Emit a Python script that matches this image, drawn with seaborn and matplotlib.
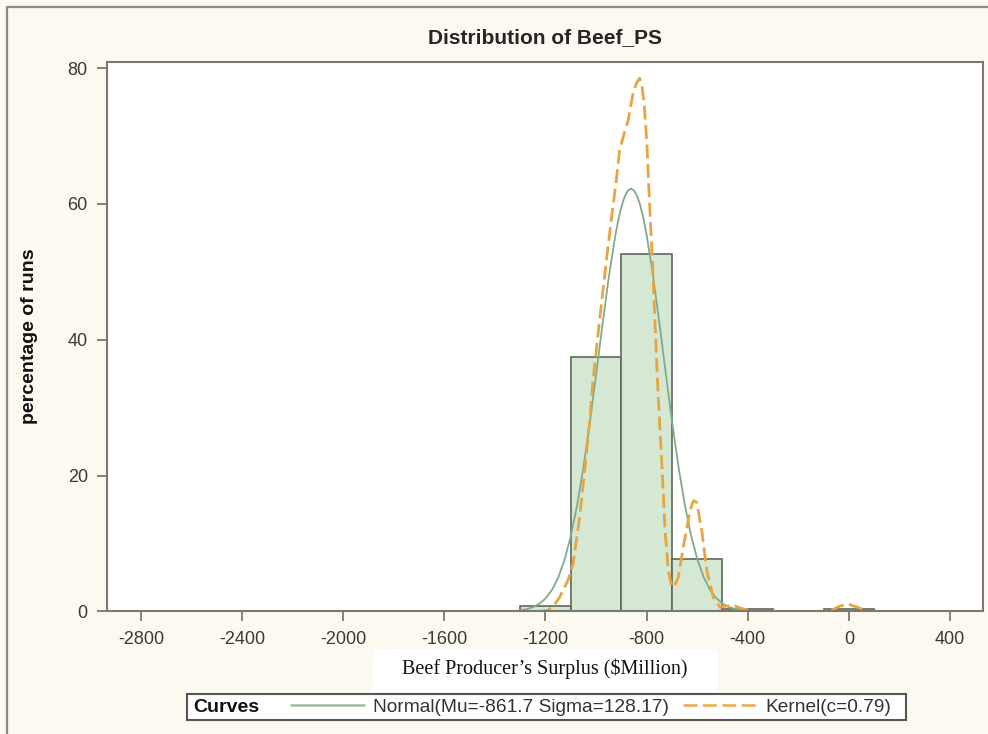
import numpy as np
import pandas as pd
import seaborn as sns
import matplotlib.pyplot as plt
from matplotlib.lines import Line2D
from matplotlib.patches import Rectangle

# Histogram bins (centres, width 200) and percentage of runs
bin_centers = [-1200, -1000, -800, -600, -400, -200, 0]
bin_pcts = [0.8, 37.5, 52.6, 7.8, 0.4, 0.0, 0.4]

# Normal curve
normal_x = [-1300, -1275, -1250, -1225, -1200, -1175, -1150, -1125, -1100, -1075,
            -1050, -1025, -1000, -975, -950, -925, -912.5, -900, -887.5, -875,
            -862.5, -850, -837.5, -825, -812.5, -800, -775, -750, -725, -700,
            -675, -650, -625, -600, -575, -550, -525, -500, -475, -450, -425]
normal_y = [0.18, 0.34, 0.63, 1.12, 1.91, 3.14, 4.96, 7.55, 11.07, 15.61,
            21.2, 27.7, 34.78, 42.12, 49.1, 55.1, 57.55, 59.53, 61.0, 61.91,
            62.25, 61.99, 61.15, 59.75, 57.83, 55.44, 49.52, 42.58, 35.25, 28.09,
            21.54, 15.91, 11.31, 7.74, 5.1, 3.23, 1.98, 1.16, 0.66, 0.36, 0.19]

# Kernel curve
kernel_x = [-1230, -1190, -1165, -1144, -1111, -1091, -1065, -1045, -1025, -1012,
            -992, -986, -959, -940, -920, -907, -887, -873, -854, -840,
            -828, -819, -810, -799, -792, -784, -776, -767, -754, -740,
            -727, -714, -700, -689, -675, -655, -628, -615, -602, -582,
            -562, -536, -510, -485, -457, -430, -404, -375, -100, -71,
            -35, -4, 35, 75, 100]
kernel_y = [0.0, 0.15, 1.0, 2.1, 4.6, 7.0, 13.9, 20.8, 28.1, 34.0,
            40.9, 42.9, 51.7, 57.6, 63.5, 67.9, 70.6, 72.3, 76.2, 77.8,
            78.5, 77.5, 74.8, 68.9, 63.0, 56.6, 50.7, 42.5, 31.6, 21.8,
            11.9, 6.0, 3.6, 3.8, 5.0, 9.5, 14.9, 16.3, 16.1, 11.9,
            6.0, 2.1, 0.6, 0.8, 0.9, 0.5, 0.25, 0.0, 0.0, 0.15,
            0.8, 1.1, 0.6, 0.05, 0.0]

x_ticks = [-2800, -2400, -2000, -1600, -1200, -800, -400, 0, 400]
y_ticks = [0, 20, 40, 60, 80]

hist_df = pd.DataFrame({'center': bin_centers, 'pct': bin_pcts})
normal_df = pd.DataFrame({'x': normal_x, 'y': normal_y})
kernel_df = pd.DataFrame({'x': kernel_x, 'y': kernel_y})

sns.set_theme(style='ticks')
plt.rcParams['font.family'] = ['Liberation Sans', 'DejaVu Sans']
plt.rcParams['axes.unicode_minus'] = False

bg = '#fcf9f1'
axis_col = '#7d786c'
fig = plt.figure(figsize=(9.88, 7.34), dpi=100, facecolor=bg)
ax = fig.add_axes([0.1086, 0.1669, 0.8860, 0.7493])
ax.set_facecolor('white')

sns.histplot(data=hist_df, x='center', weights='pct', binwidth=200, binrange=(-1300, 100),
             color='#d5e8d4', edgecolor='#5e685e', linewidth=1.2, alpha=1, ax=ax)

sns.lineplot(data=normal_df, x='x', y='y', color='#82aa8a', linewidth=1.3, ax=ax)
sns.lineplot(data=kernel_df, x='x', y='y', color='#e8a53f', linewidth=2.0,
             linestyle=(0, (5, 2)), ax=ax)

ax.set_xlim(-2933, 529)
ax.set_ylim(0, 80.96)
ax.set_xticks(x_ticks)
ax.set_yticks(y_ticks)
ax.tick_params(axis='both', length=7, width=1.3, color=axis_col, labelsize=13,
               labelcolor='#3a3a3a', pad=7)
for s in ax.spines.values():
    s.set_color(axis_col)
    s.set_linewidth(1.5)

ax.set_xlabel('')
ax.set_ylabel('percentage of runs', fontsize=14, fontweight='bold', color='#111111')
ax.yaxis.set_label_coords(-0.079, 0.5)
ax.set_title('Distribution of Beef_PS', fontsize=15, fontweight='bold', pad=13)

W, H = 988, 734

# x axis label in a white box, serif
fig.patches.append(Rectangle((373 / W, 1 - 692 / H), 344 / W, 42 / H, transform=fig.transFigure,
                             facecolor='white', edgecolor='none'))
fig.text(545 / W, 1 - 669 / H, 'Beef Producer\u2019s Surplus ($Million)', ha='center', va='center',
         fontsize=14.5, family=['Liberation Serif', 'DejaVu Serif'], color='#111111')

# legend box
fig.patches.append(Rectangle((187 / W, 1 - 720 / H), 719 / W, 26 / H, transform=fig.transFigure,
                             facecolor='white', edgecolor='#555555', linewidth=1.5))
fig.text(193 / W, 1 - 707 / H, 'Curves', ha='left', va='center', fontsize=14,
         fontweight='bold', color='#111111')
handles = [Line2D([], [], color='#9cbd9f', linewidth=1.8),
           Line2D([], [], color='#eab063', linewidth=2.0, linestyle=(0, (5, 2)))]
fig.legend(handles, ['Normal(Mu=-861.7 Sigma=128.17)', 'Kernel(c=0.79)'], ncol=2,
           loc='center left', bbox_to_anchor=(291 / W, 1 - 707 / H), frameon=False,
           fontsize=13.8, handlelength=3.8, handletextpad=0.5, columnspacing=0.7,
           borderpad=0, borderaxespad=0, labelcolor='#333333')

# outer frame (left and top edges)
fig.add_artist(Line2D([6.5 / W, 6.5 / W], [0, 1 - 6.5 / H], transform=fig.transFigure,
                      color='#8c897f', linewidth=1.6))
fig.add_artist(Line2D([6.5 / W, 1], [1 - 6.5 / H, 1 - 6.5 / H], transform=fig.transFigure,
                      color='#8c897f', linewidth=1.6))

fig.savefig('out.png', dpi=100, facecolor=bg)
